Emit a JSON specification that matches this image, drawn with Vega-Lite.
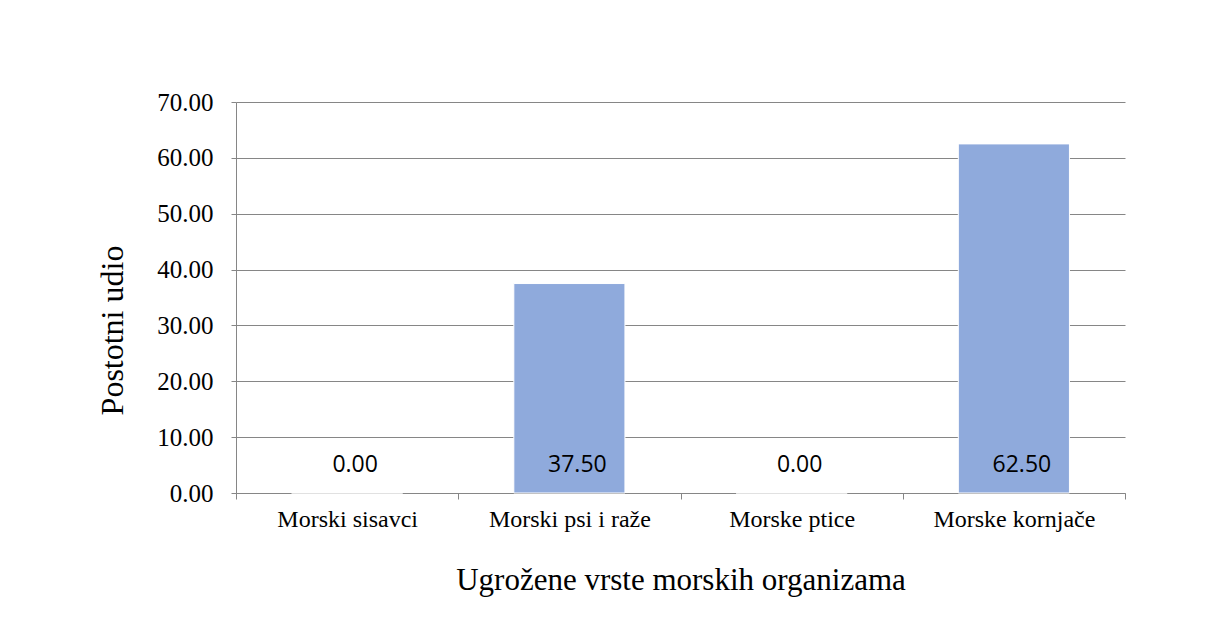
{
  "$schema": "https://vega.github.io/schema/vega-lite/v6.json",
  "autosize": {"type": "none"},
  "width": 889,
  "height": 391,
  "padding": {"left": 236, "top": 102, "right": 92, "bottom": 150},
  "background": "white",
  "config": {
    "view": {"stroke": null},
    "axis": {"labelFont": "Liberation Serif", "titleFont": "Liberation Serif", "labelColor": "black", "titleColor": "black", "titleFontWeight": "normal"}
  },
  "data": {"values": [
    {"vrsta": "Morski sisavci", "udio": 0.0},
    {"vrsta": "Morski psi i raže", "udio": 37.5},
    {"vrsta": "Morske ptice", "udio": 0.0},
    {"vrsta": "Morske kornjače", "udio": 62.5}
  ]},
  "encoding": {
    "x": {
      "field": "vrsta", "type": "nominal", "sort": null,
      "scale": {"paddingInner": 0, "paddingOuter": 0},
      "axis": {
        "title": "Ugrožene vrste morskih organizama",
        "titleFontSize": 31, "titlePadding": 34,
        "labelFontSize": 24, "labelPadding": 8, "labelAngle": 0,
        "tickBand": "extent", "tickColor": "#868686", "tickSize": 6, "domainColor": "#868686"
      }
    }
  },
  "layer": [
    {
      "mark": {"type": "bar", "color": "#8FAADC", "stroke": "white", "strokeWidth": 1, "width": {"band": 0.5}},
      "encoding": {
        "y": {
          "field": "udio", "type": "quantitative",
          "scale": {"domain": [0, 70], "nice": false},
          "axis": {
            "title": "Postotni udio",
            "titleFontSize": 32, "titlePadding": 27, "titleY": 228,
            "labelFontSize": 25, "labelPadding": 18,
            "values": [0, 10, 20, 30, 40, 50, 60, 70], "format": ".2f",
            "grid": true, "gridColor": "#868686", "tickColor": "#868686", "tickSize": 5, "domainColor": "#868686"
          }
        }
      }
    },
    {
      "mark": {"type": "text", "font": "Open Sans", "fontSize": 23, "color": "black", "baseline": "middle", "dy": -28, "dx": 8},
      "encoding": {
        "y": {"datum": 0, "type": "quantitative"},
        "text": {"field": "udio", "type": "quantitative", "format": ".2f"}
      }
    }
  ]
}
